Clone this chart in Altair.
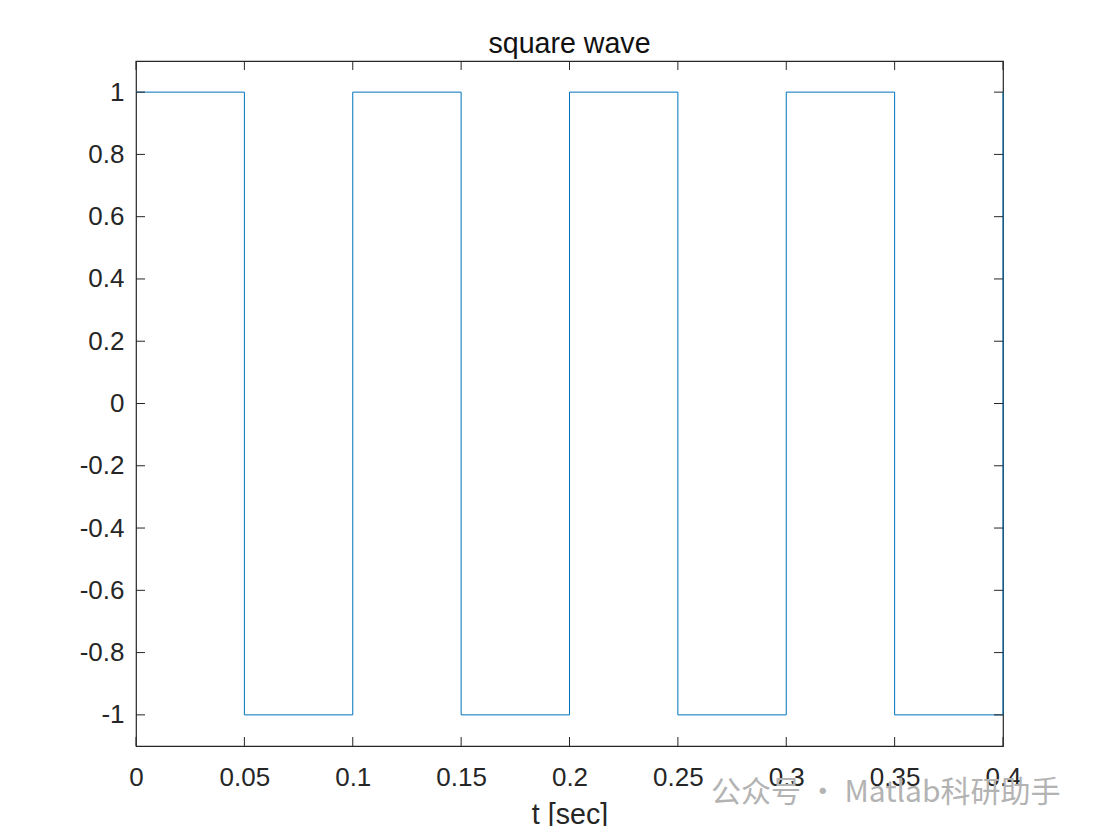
import altair as alt
import pandas as pd

# data: square wave, 10 Hz, sampled at its transitions
t_edges = [0.0, 0.05, 0.1, 0.15, 0.2, 0.25, 0.3, 0.35, 0.4]
levels = [1, -1, 1, -1, 1, -1, 1, -1, 1]
x_ticks = [0, 0.05, 0.1, 0.15, 0.2, 0.25, 0.3, 0.35, 0.4]
y_ticks = [-1, -0.8, -0.6, -0.4, -0.2, 0, 0.2, 0.4, 0.6, 0.8, 1]
title_text = "square wave"
xlabel_text = "t [sec]"
watermark_text = "公众号 · Matlab科研助手"

W, H = 867, 685
TICK = 9
AX = "#262626"
FONT = "Liberation Sans"

wave = pd.DataFrame({"t": t_edges, "v": levels})
xt = pd.DataFrame({"t": x_ticks})
yt = pd.DataFrame({"v": y_ticks})

xscale = alt.Scale(domain=[0, 0.4], nice=False, zero=False)
yscale = alt.Scale(domain=[-1.1, 1.1], nice=False, zero=False)

line = alt.Chart(wave).mark_line(
    interpolate="step-after", color="#0072BD", strokeWidth=1
).encode(
    x=alt.X("t:Q", scale=xscale, axis=alt.Axis(
        values=x_ticks, ticks=False, tickSize=0, domain=False, grid=False,
        labelFont=FONT, labelFontSize=26, labelColor=AX, labelPadding=18,
        labelExpr="datum.value + ''", labelFlush=False,
        title=xlabel_text, titleFont=FONT, titleFontSize=28.6, titleFontWeight="normal",
        titleColor=AX, titleBaseline="alphabetic", titleY=77, titleX=W / 2,
        titleAnchor="middle",
    )),
    y=alt.Y("v:Q", scale=yscale, axis=alt.Axis(
        values=y_ticks, ticks=False, tickSize=0, domain=False, grid=False,
        labelFont=FONT, labelFontSize=26, labelColor=AX, labelPadding=12,
        labelExpr="datum.value + ''", labelFlush=False, labelBaseline="middle",
        title=None,
    )),
)

left_ticks = alt.Chart(yt).mark_rule(color=AX, strokeWidth=1).encode(
    y=alt.Y("v:Q", scale=yscale), x=alt.value(0), x2=alt.value(TICK))
right_ticks = alt.Chart(yt).mark_rule(color=AX, strokeWidth=1).encode(
    y=alt.Y("v:Q", scale=yscale), x=alt.value(W - TICK), x2=alt.value(W))
bottom_ticks = alt.Chart(xt).mark_rule(color=AX, strokeWidth=1).encode(
    x=alt.X("t:Q", scale=xscale), y=alt.value(H - TICK), y2=alt.value(H))
top_ticks = alt.Chart(xt).mark_rule(color=AX, strokeWidth=1).encode(
    x=alt.X("t:Q", scale=xscale), y=alt.value(0), y2=alt.value(TICK))

watermark = alt.Chart(pd.DataFrame({"s": [watermark_text]})).mark_text(
    font="Noto Sans CJK SC", fontSize=30, color="#b3b3b3", align="left",
    baseline="middle"
).encode(text="s:N", x=alt.value(575), y=alt.value(732))

chart = alt.layer(
    line, left_ticks, right_ticks, bottom_ticks, top_ticks, watermark
).properties(
    width=W, height=H,
    title=alt.TitleParams(title_text, font=FONT, fontSize=28.6, fontWeight="normal",
                          color="#111111", anchor="middle", baseline="alphabetic",
                          offset=9, dy=30),
    autosize=alt.AutoSizeParams(type="none"),
    padding={"left": 128, "top": 53, "right": 88, "bottom": 80},
).configure(background="white").configure_view(stroke=AX, strokeWidth=1.2)

chart.save("out.html", embed_options={"renderer": "svg", "actions": False})
